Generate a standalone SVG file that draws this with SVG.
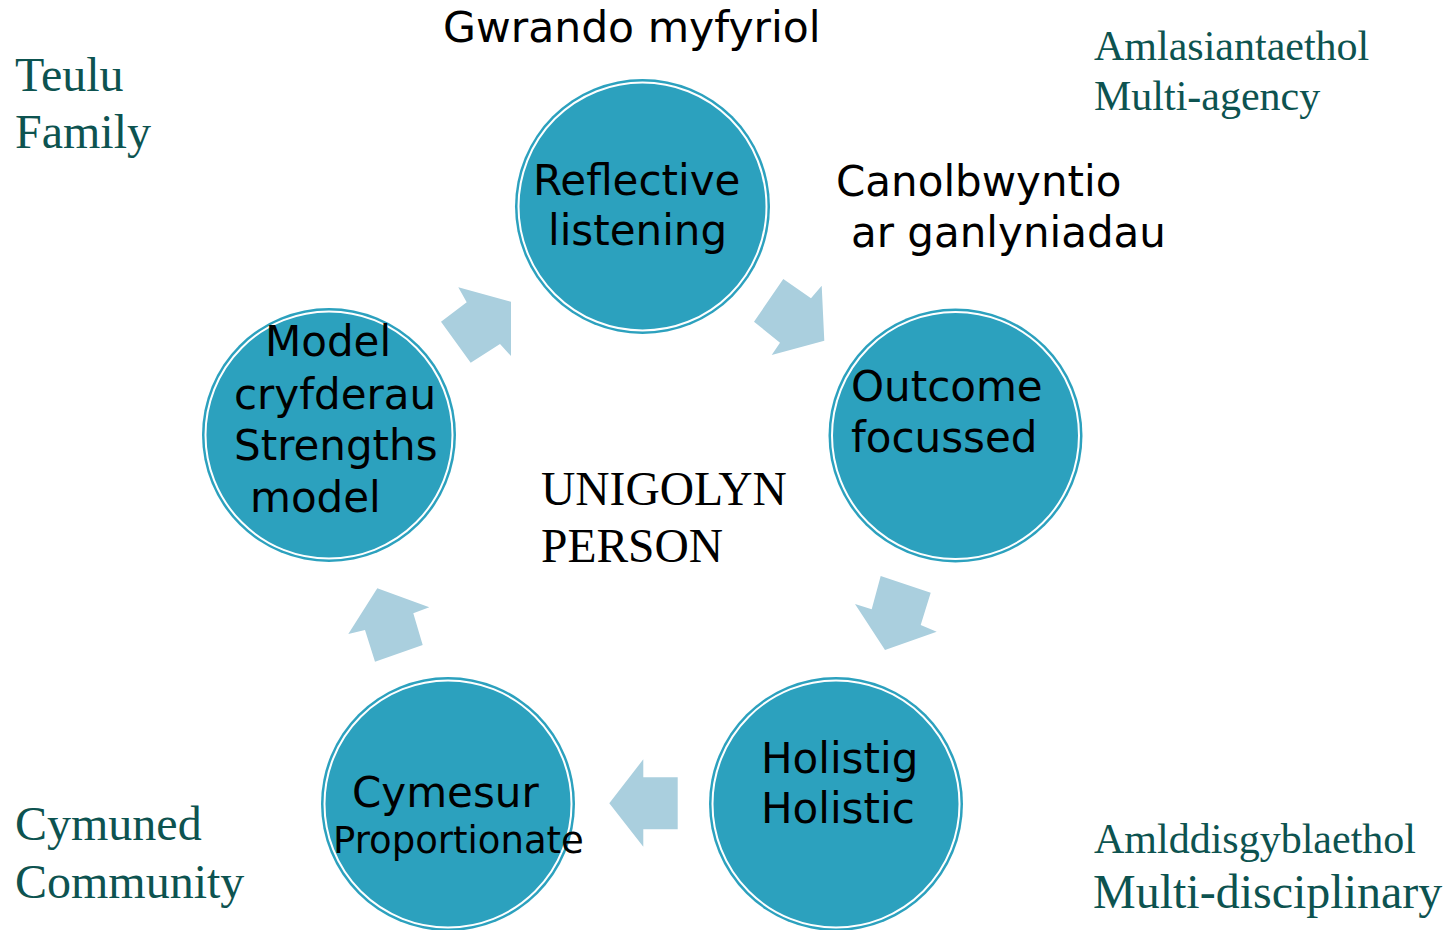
<svg xmlns="http://www.w3.org/2000/svg" width="1456" height="930" viewBox="0 0 1456 930">
<style>
.c{fill:#2ca1be}
.r{fill:none;stroke:#fff;stroke-width:2}
.a{fill:#aacfde}
.t{font-family:"DejaVu Sans",Verdana,sans-serif;font-size:42px;fill:#000}
.s{font-family:"Liberation Serif","Times New Roman",serif;fill:#0d5350}
.u{font-family:"Liberation Serif","Times New Roman",serif;font-size:47.5px;fill:#000}
</style>
<rect width="1456" height="930" fill="#fff"/>
<g id="connectors">
<polygon class="a" points="458.3,287.3 511,301.7 511,356 500,344 470.7,362.7 441,321.7 466.7,302.3"/>
<polygon class="a" points="783.3,279 811,298.3 821.7,285.7 824.3,340.7 771.7,355 780,342.7 754,321.7"/>
<polygon class="a" points="880.7,576 930.7,592.7 920.7,625 936.7,631.7 885,650 855,604 871.7,609.3"/>
<polygon class="a" points="677.7,777.3 643.3,777.3 643.3,759.3 609.3,803.3 643.3,846.7 643.3,829.3 677.7,829.3"/>
<polygon class="a" points="377.3,588.3 429.3,607.3 413.3,613.3 422.7,645 375,661.7 365,630 348.3,634"/>
</g>
<g id="node-reflective">
<circle class="c" cx="642.5" cy="206.5" r="127.5"/>
<circle class="r" cx="642.5" cy="206.5" r="124"/>
<text class="t" x="533" y="195">Reflective</text>
<text class="t" x="548" y="245">listening</text>
</g>
<g id="node-outcome">
<circle class="c" cx="955.5" cy="435.5" r="127"/>
<circle class="r" cx="955.5" cy="435.5" r="123.5"/>
<text class="t" x="851" y="401">Outcome</text>
<text class="t" x="851" y="452">focussed</text>
</g>
<g id="node-holistic">
<circle class="c" cx="836" cy="804" r="127"/>
<circle class="r" cx="836" cy="804" r="123.5"/>
<text class="t" x="761" y="773">Holistig</text>
<text class="t" x="761" y="823">Holistic</text>
</g>
<g id="node-proportionate">
<circle class="c" cx="448" cy="804" r="127"/>
<circle class="r" cx="448" cy="804" r="123.5"/>
<text class="t" x="352" y="807">Cymesur</text>
<text class="t" x="333" y="853" style="font-size:37px">Proportionate</text>
</g>
<g id="node-strengths">
<circle class="c" cx="329" cy="435" r="127"/>
<circle class="r" cx="329" cy="435" r="123.5"/>
<text class="t" x="265" y="356">Model</text>
<text class="t" x="234" y="409">cryfderau</text>
<text class="t" x="234" y="460">Strengths</text>
<text class="t" x="250" y="512">model</text>
</g>
<g id="labels">
<text class="t" x="443" y="42" style="font-size:42.5px">Gwrando myfyriol</text>
<text class="t" x="836" y="196">Canolbwyntio</text>
<text class="t" x="851" y="247">ar ganlyniadau</text>
<text class="u" x="541" y="505">UNIGOLYN</text>
<text class="u" x="541" y="562">PERSON</text>
<text class="s" x="15" y="91" style="font-size:48px">Teulu</text>
<text class="s" x="15" y="148" style="font-size:48px">Family</text>
<text class="s" x="1094" y="60" style="font-size:42px">Amlasiantaethol</text>
<text class="s" x="1094" y="110" style="font-size:42px">Multi-agency</text>
<text class="s" x="15" y="840" style="font-size:48px">Cymuned</text>
<text class="s" x="15" y="898" style="font-size:48px">Community</text>
<text class="s" x="1094" y="853" style="font-size:42px">Amlddisgyblaethol</text>
<text class="s" x="1093" y="908" style="font-size:48px">Multi-disciplinary</text>
</g>
</svg>
